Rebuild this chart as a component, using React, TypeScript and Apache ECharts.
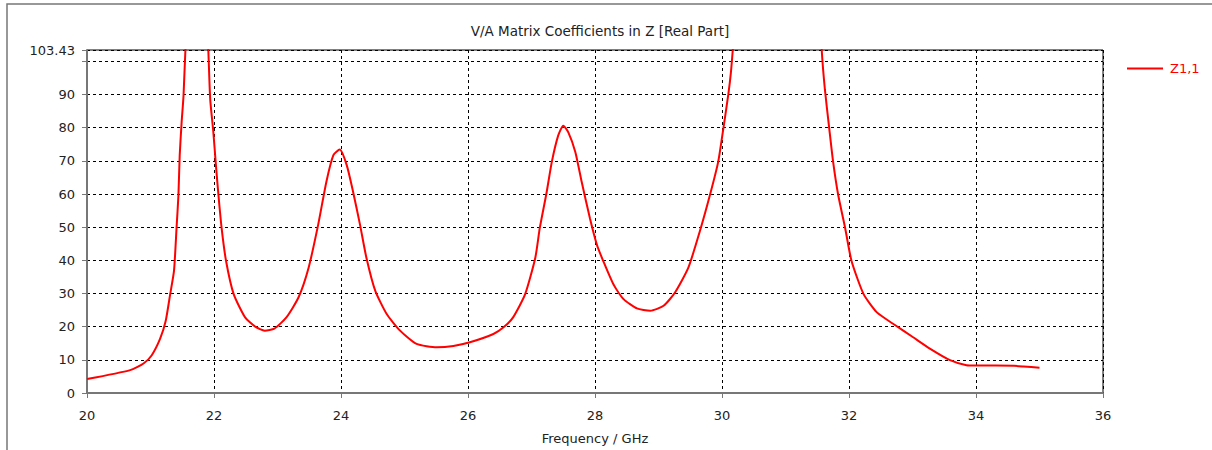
import React, { useEffect, useRef } from "react";
import * as echarts from "echarts";

const titleText = "V/A Matrix Coefficients in Z [Real Part]";
const xAxisName = "Frequency / GHz";
const seriesName = "Z1,1";

const freq = [
  20, 20.68, 20.89, 21.02, 21.15, 21.24, 21.31, 21.37, 21.41, 21.44, 21.46, 21.49, 21.52, 21.55, 21.62, 21.72,
  21.82, 21.91, 21.94, 21.99, 22.03, 22.07, 22.12, 22.19, 22.31, 22.49, 22.65, 22.8, 22.95, 23.14, 23.33, 23.49,
  23.64, 23.77, 23.88, 23.98, 24.09, 24.19, 24.3, 24.4, 24.54, 24.72, 24.93, 25.19, 25.51, 25.77, 26.03, 26.4,
  26.56, 26.71, 26.9, 27.06, 27.13, 27.24, 27.32, 27.42, 27.5, 27.58, 27.69, 27.79, 27.92, 28.03, 28.13, 28.29,
  28.45, 28.66, 28.87, 29.08, 29.26, 29.47, 29.65, 29.81, 29.94, 30.02, 30.1, 30.14, 30.17, 30.4, 30.9, 31.4,
  31.57, 31.62, 31.69, 31.75, 31.83, 31.94, 32.04, 32.23, 32.44, 32.7, 33.01, 33.28, 33.59, 33.85, 34.01, 34.6,
  34.75, 35.0,
];

const z11Real = [
  4.2, 6.9, 8.9, 11.4, 16.3, 21.8, 29.8, 36.8, 49.7, 59.7, 71.7, 81.6, 89.6, 103.5, 125, 150,
  135, 103.5, 88.6, 78.6, 68.7, 59.7, 49.7, 39.8, 29.8, 22.8, 20.0, 18.8, 19.4, 22.8, 28.8, 37.8,
  50.7, 63.7, 71.7, 73.4, 68.7, 60.7, 50.7, 40.8, 30.8, 23.8, 18.8, 14.8, 13.8, 14.2, 15.3, 17.8,
  19.8, 22.8, 29.8, 40.8, 49.7, 60.7, 69.7, 77.6, 80.6, 78.6, 72.7, 63.7, 52.7, 44.7, 39.8, 32.8,
  28.3, 25.5, 24.8, 26.3, 30.3, 37.8, 48.7, 59.7, 69.7, 79.6, 90.1, 96.6, 103.5, 160, 220, 160,
  103.5, 91.6, 79.6, 69.7, 59.7, 49.7, 39.8, 29.8, 24.3, 20.8, 16.8, 13.3, 9.9, 8.4, 8.3, 8.2,
  8.0, 7.6,
];

const xMin = 20;
const xMax = 36;
const xStep = 2;
const yMin = 0;
const yMax = 103.43;
const yStep = 10;
const hiddenYLabel = 100;

const FONT = "DejaVu Sans";

export default function App() {
  const ref = useRef<HTMLDivElement>(null);
  useEffect(() => {
    if (!ref.current) return;
    const chart = echarts.init(ref.current, null, { renderer: "svg" });
    const data = freq.map((f, i) => [f, z11Real[i]]);
    chart.setOption({
      animation: false,
      backgroundColor: "#ffffff",
      title: {
        text: titleText,
        left: 595,
        textAlign: "center",
        top: 19,
        textStyle: { fontFamily: FONT, fontSize: 13.5, fontWeight: "normal", color: "#222" },
      },
      legend: {
        left: 1122,
        top: 57,
        itemWidth: 36,
        itemHeight: 14,
        itemGap: 6,
        data: [{ name: seriesName, icon: "path://M0,6 L36,6 L36,8 L0,8 Z" }],
        textStyle: { fontFamily: FONT, fontSize: 13, color: "#ff0000", padding: [0, 0, 0, 2] },
      },
      graphic: [
        {
          type: "rect",
          shape: { x: 7, y: 4, width: 1215, height: 460 },
          style: { fill: "none", stroke: "#777", lineWidth: 1.5 },
          silent: true,
          z: -10,
        },
      ],
      grid: {
        left: 87,
        right: 109,
        top: 50,
        bottom: 51,
        show: true,
        borderColor: "#000",
        borderWidth: 1,
        backgroundColor: "transparent",
      },
      xAxis: {
        type: "value",
        min: xMin,
        max: xMax,
        interval: xStep,
        name: xAxisName,
        nameLocation: "middle",
        nameGap: 39,
        nameTextStyle: { fontFamily: FONT, fontSize: 13, color: "#222" },
        axisLine: { show: true, lineStyle: { color: "#777", width: 2 } },
        axisTick: { show: true, length: 5, lineStyle: { color: "#777", width: 1 } },
        axisLabel: { fontFamily: FONT, fontSize: 13, color: "#222", margin: 16 },
        splitLine: { show: true, lineStyle: { color: "#000", type: [3, 3], width: 1 } },
      },
      yAxis: {
        type: "value",
        min: yMin,
        max: yMax,
        interval: yStep,
        axisLine: { show: true, lineStyle: { color: "#777", width: 2 } },
        axisTick: { show: true, length: 5, lineStyle: { color: "#777", width: 1 } },
        axisLabel: {
          fontFamily: FONT,
          fontSize: 13,
          color: "#222",
          margin: 12,
          showMaxLabel: true,
          formatter: (v: number) => (Math.abs(v - hiddenYLabel) < 1e-9 ? "" : String(v)),
        },
        splitLine: { show: true, lineStyle: { color: "#000", type: [3, 3], width: 1 } },
      },
      series: [
        {
          name: seriesName,
          type: "line",
          data,
          symbol: "none",
          clip: true,
          smooth: 0.2,
          lineStyle: { color: "#ff0000", width: 2 },
          itemStyle: { color: "#ff0000" },
        },
      ],
    });
    return () => chart.dispose();
  }, []);
  return (
    <div
      ref={ref}
      style={{ position: "fixed", left: 0, top: 0, width: 1212, height: 450, background: "#fff" }}
    />
  );
}
